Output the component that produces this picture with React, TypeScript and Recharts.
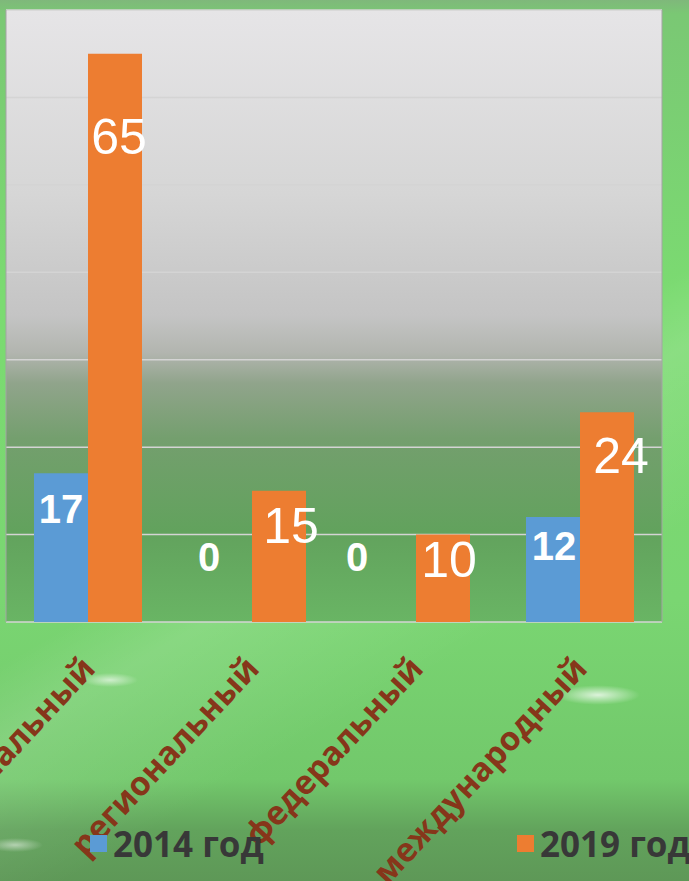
import React from 'react';
import { BarChart, Bar, XAxis, YAxis, CartesianGrid, Legend, LabelList } from 'recharts';

const categories = ['муниципальный', 'региональный', 'федеральный', 'международный'];
const values2014 = [17, 0, 0, 12];
const values2019 = [65, 15, 10, 24];
const seriesNames = ['2014 год', '2019 год'];
const yTicks = [10, 20, 30, 40, 50, 60, 70];

// label nudges relative to bar centre / top (dx, dy of label centre)
const nudge2014 = [[0, 35], [-16, -65], [-32, -65], [1, 29]];
const nudge2019 = [[4, 82], [12, 34], [6, 25], [14, 43]];

const data = categories.map((c, i) => ({ name: c, v2014: values2014[i], v2019: values2019[i] }));

const COLORS = ['#5b9bd5', '#ed7d31'];

const makeLabel = (nudges: number[][], size: number, weight: string) => (props: any) => {
  const { x, y, width, value, index } = props;
  const n = nudges[index] || [0, 0];
  const cx = Number(x) + Number(width) / 2 + n[0];
  const cy = Number(y) + n[1];
  return (
    <text
      x={cx}
      y={cy + size * 0.358}
      textAnchor="middle"
      fill="#ffffff"
      fontFamily="'Liberation Sans', Arial, sans-serif"
      fontWeight={weight}
      fontSize={size}
    >
      {value}
    </text>
  );
};

const CategoryTick = (props: any) => {
  const { x, y, payload } = props;
  const ax = x + 9;
  const ay = y + 48;
  return (
    <text
      x={ax}
      y={ay}
      transform={`rotate(-47, ${ax}, ${ay})`}
      textAnchor="end"
      fill="#86361a"
      fontFamily="'Open Sans', sans-serif"
      fontWeight="bold"
      fontSize={33}
    >
      {payload.value}
    </text>
  );
};

const renderLegend = (props: any) => {
  const { payload } = props;
  const lefts = [90, 517];
  return (
    <div style={{ position: 'relative', width: 689, height: 35 }}>
      {(payload || []).map((p: any, i: number) => (
        <div
          key={i}
          style={{ position: 'absolute', left: lefts[i], top: 0, height: 35, display: 'flex', alignItems: 'center', whiteSpace: 'nowrap' }}
        >
          <span style={{ display: 'inline-block', width: 17, height: 17, background: p.color, marginRight: 6 }} />
          <span
            style={{
              fontFamily: "'Open Sans', sans-serif",
              fontWeight: 'bold',
              fontSize: 35,
              lineHeight: '35px',
              color: '#383838',
            }}
          >
            {p.value}
          </span>
        </div>
      ))}
    </div>
  );
};

export default function App() {
  return (
    <div
      style={{
        position: 'absolute',
        top: 0,
        left: 0,
        width: 689,
        height: 881,
        overflow: 'hidden',
        background: [
          'radial-gradient(ellipse 60px 14px at 598px 695px, rgba(255,255,255,0.75), rgba(255,255,255,0) 70%)',
          'radial-gradient(ellipse 40px 10px at 110px 680px, rgba(255,255,255,0.6), rgba(255,255,255,0) 70%)',
          'radial-gradient(ellipse 40px 10px at 15px 845px, rgba(255,255,255,0.5), rgba(255,255,255,0) 70%)',
          'linear-gradient(150deg, rgba(255,255,255,0) 52%, rgba(255,255,255,0.12) 58%, rgba(255,255,255,0.05) 66%, rgba(255,255,255,0) 72%)',
          'linear-gradient(to bottom, #7fb87b 0px, #7ac874 14px, #7bdb71 300px, #7ad672 600px, #72c86b 780px, #62a35c 830px, #5e9857 881px)',
        ].join(', '),
      }}
    >
      <BarChart
        width={689}
        height={881}
        data={data}
        margin={{ top: 10, right: 27, bottom: 0, left: 6 }}
        barCategoryGap={28}
        barGap={0}
      >
        <defs>
          <linearGradient id="plotBg" x1="0" y1="0" x2="0" y2="1">
            <stop offset="0%" stopColor="#e6e5e7" />
            <stop offset="30%" stopColor="#d6d6d6" />
            <stop offset="50%" stopColor="#c4c4c4" />
            <stop offset="56%" stopColor="#b2b5af" />
            <stop offset="61%" stopColor="#90a48b" />
            <stop offset="70%" stopColor="#749f6e" />
            <stop offset="85%" stopColor="#62a25d" />
            <stop offset="100%" stopColor="#69b564" />
          </linearGradient>
        </defs>
        <CartesianGrid
          fill="url(#plotBg)"
          vertical={false}
          stroke="#d4d4d4"
          strokeWidth={1.5}
        />
        <CartesianGrid
          horizontal={false}
          stroke="#a4a4a4"
          strokeWidth={1}
          verticalCoordinatesGenerator={(p: any) => [p.offset.left, p.offset.left + p.offset.width]}
        />
        <XAxis
          dataKey="name"
          height={259}
          axisLine={false}
          tickLine={false}
          tickSize={0}
          tickMargin={0}
          interval={0}
          tick={<CategoryTick />}
        />
        <YAxis hide domain={[0, 70]} ticks={yTicks} />
        <Legend
          layout="horizontal"
          verticalAlign="middle"
          align="center"
          content={renderLegend}
          wrapperStyle={{ top: 826, left: 0, width: 689, height: 35 }}
        />
        <Bar dataKey="v2014" name={seriesNames[0]} fill={COLORS[0]} minPointSize={0.01} isAnimationActive={false}>
          <LabelList dataKey="v2014" content={makeLabel(nudge2014, 40, 'bold')} />
        </Bar>
        <Bar dataKey="v2019" name={seriesNames[1]} fill={COLORS[1]} isAnimationActive={false}>
          <LabelList dataKey="v2019" content={makeLabel(nudge2019, 50, 'normal')} />
        </Bar>
      </BarChart>
    </div>
  );
}
